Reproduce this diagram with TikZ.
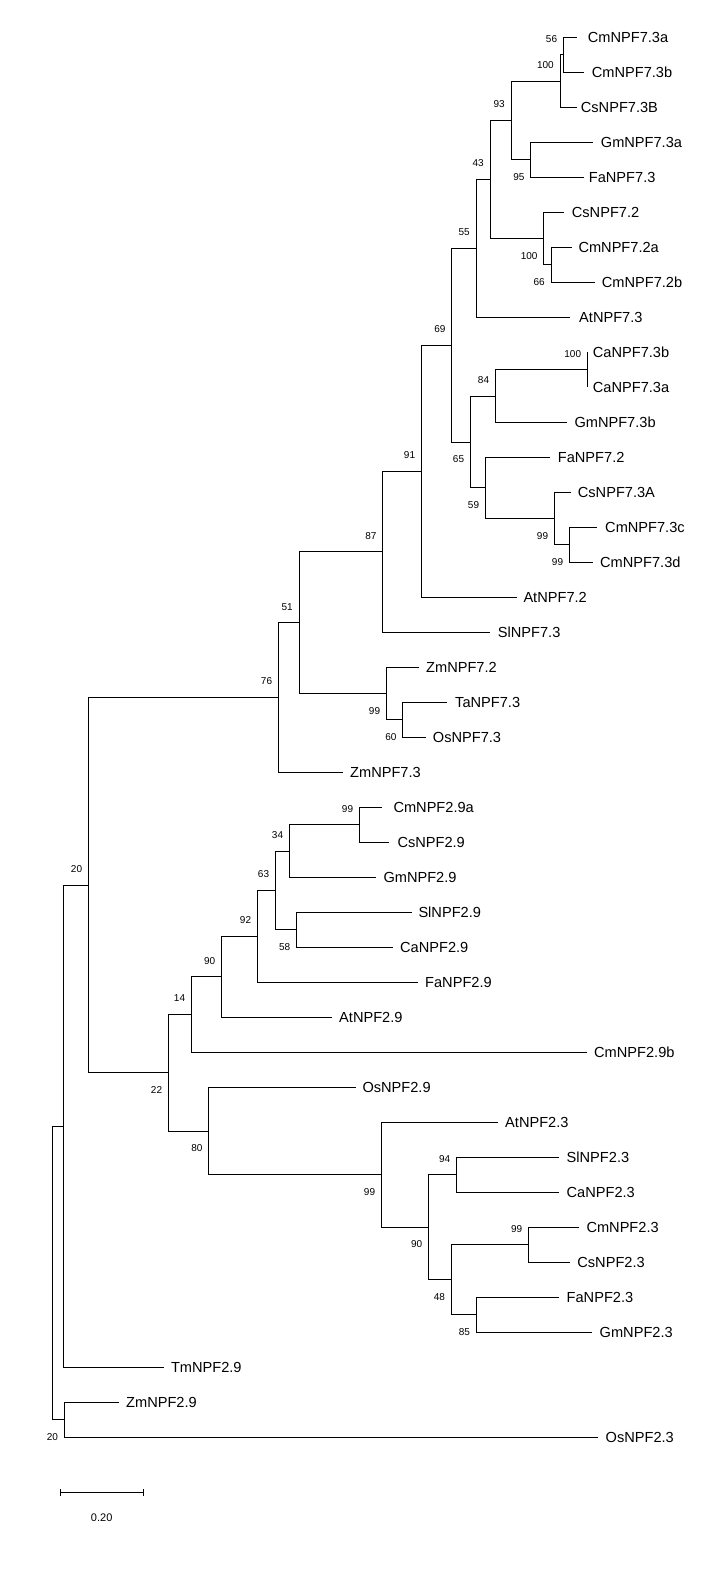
\documentclass[tikz,border=0pt]{standalone}
\usepackage{fontspec}
\setmainfont{Liberation Sans}
\begin{document}
\begin{tikzpicture}[x=1pt,y=-1pt,
  br/.style={line width=0.9pt,black},
  leaf/.style={anchor=west,inner sep=0pt,font=\fontsize{14.6}{16}\selectfont,text height=10.5pt,text depth=0pt},
  bsa/.style={anchor=east,inner sep=0pt,font=\fontsize{10}{12}\selectfont,text height=7.2pt,text depth=0pt,yshift=16.3pt},
  bsb/.style={anchor=east,inner sep=0pt,font=\fontsize{10}{12}\selectfont,text height=7.2pt,text depth=0pt,yshift=-17pt}]
\useasboundingbox (0,0) rectangle (724,1576);
% internal nodes
\coordinate (root) at (52.2,1273);
\coordinate (nA) at (63.3,1126.2);
\coordinate (n20b) at (64.1,1419.8);
\coordinate (n20a) at (88.3,885.1);
\coordinate (n76) at (278.3,697.5);
\coordinate (n51) at (299,622.7);
\coordinate (n87) at (382.7,551.8);
\coordinate (n91) at (421.3,471.2);
\coordinate (n69) at (451.7,345.1);
\coordinate (n55) at (476,248.3);
\coordinate (n43) at (490,179.5);
\coordinate (n93) at (511,120.5);
\coordinate (n100a) at (560,81.25);
\coordinate (n56) at (563.3,54.8);
\coordinate (n95) at (530.7,159.8);
\coordinate (n100b) at (543.7,238.5);
\coordinate (n66) at (551,264.8);
\coordinate (n65) at (470.3,442);
\coordinate (n84) at (495.3,396);
\coordinate (n100c) at (587.3,369.8);
\coordinate (n59) at (485.3,487.9);
\coordinate (n99a) at (554.3,518.5);
\coordinate (n99b) at (569.3,544.8);
\coordinate (n99c) at (386.3,693.5);
\coordinate (n60) at (402.7,719.8);
\coordinate (n22) at (168.3,1072.8);
\coordinate (n14) at (191.3,1014.6);
\coordinate (n90) at (221.5,976.8);
\coordinate (n92) at (257.3,936.4);
\coordinate (n63) at (275.3,890.4);
\coordinate (n34) at (289.3,851);
\coordinate (n99d) at (359.3,824.8);
\coordinate (n58) at (296.5,929.8);
\coordinate (n80) at (208.6,1131);
\coordinate (n99e) at (381.3,1174.8);
\coordinate (n90b) at (428.5,1227.3);
\coordinate (n94) at (456.4,1174.8);
\coordinate (n48) at (451.2,1279.8);
\coordinate (n99f) at (528.5,1244.8);
\coordinate (n85) at (476.1,1314.8);
% leaf branch ends
\coordinate (e0) at (577.3,37.3);
\coordinate (e1) at (584,72.3);
\coordinate (e2) at (577.3,107.3);
\coordinate (e3) at (592.7,142.3);
\coordinate (e4) at (584,177.3);
\coordinate (e5) at (564,212.3);
\coordinate (e6) at (571.7,247.3);
\coordinate (e7) at (595,282.3);
\coordinate (e8) at (570,317.3);
\coordinate (e9) at (587.3,352.3);
\coordinate (e10) at (587.3,387.3);
\coordinate (e11) at (567.3,422.3);
\coordinate (e12) at (550,457.3);
\coordinate (e13) at (571,492.3);
\coordinate (e14) at (597.3,527.3);
\coordinate (e15) at (592.7,562.3);
\coordinate (e16) at (516.7,597.3);
\coordinate (e17) at (490,632.3);
\coordinate (e18) at (419.3,667.3);
\coordinate (e19) at (447.3,702.3);
\coordinate (e20) at (426,737.3);
\coordinate (e21) at (342.7,772.3);
\coordinate (e22) at (381.7,807.3);
\coordinate (e23) at (389.3,842.3);
\coordinate (e24) at (376,877.3);
\coordinate (e25) at (411.7,912.3);
\coordinate (e26) at (393.3,947.3);
\coordinate (e27) at (418.3,982.3);
\coordinate (e28) at (331.7,1017.3);
\coordinate (e29) at (587.4,1052.3);
\coordinate (e30) at (355.7,1087.3);
\coordinate (e31) at (497.7,1122.3);
\coordinate (e32) at (559.2,1157.3);
\coordinate (e33) at (559.2,1192.3);
\coordinate (e34) at (579.4,1227.3);
\coordinate (e35) at (570.2,1262.3);
\coordinate (e36) at (559.2,1297.3);
\coordinate (e37) at (592.2,1332.3);
\coordinate (e38) at (163.7,1367.3);
\coordinate (e39) at (118.5,1402.3);
\coordinate (e40) at (598,1437.3);
% leaf labels
\node[leaf] (l0) at (587.7,37.3) {CmNPF7.3a};
\node[leaf] (l1) at (591.7,72.3) {CmNPF7.3b};
\node[leaf] (l2) at (580.7,107.3) {CsNPF7.3B};
\node[leaf] (l3) at (600.7,142.3) {GmNPF7.3a};
\node[leaf] (l4) at (588.7,177.3) {FaNPF7.3};
\node[leaf] (l5) at (571.7,212.3) {CsNPF7.2};
\node[leaf] (l6) at (578.3,247.3) {CmNPF7.2a};
\node[leaf] (l7) at (601.7,282.3) {CmNPF7.2b};
\node[leaf] (l8) at (579,317.3) {AtNPF7.3};
\node[leaf] (l9) at (592.7,352.3) {CaNPF7.3b};
\node[leaf] (l10) at (592.7,387.3) {CaNPF7.3a};
\node[leaf] (l11) at (574.3,422.3) {GmNPF7.3b};
\node[leaf] (l12) at (557.7,457.3) {FaNPF7.2};
\node[leaf] (l13) at (577.7,492.3) {CsNPF7.3A};
\node[leaf] (l14) at (605,527.3) {CmNPF7.3c};
\node[leaf] (l15) at (600,562.3) {CmNPF7.3d};
\node[leaf] (l16) at (523.3,597.3) {AtNPF7.2};
\node[leaf] (l17) at (497.7,632.3) {SlNPF7.3};
\node[leaf] (l18) at (426,667.3) {ZmNPF7.2};
\node[leaf] (l19) at (455,702.3) {TaNPF7.3};
\node[leaf] (l20) at (432.7,737.3) {OsNPF7.3};
\node[leaf] (l21) at (350,772.3) {ZmNPF7.3};
\node[leaf] (l22) at (393.3,807.3) {CmNPF2.9a};
\node[leaf] (l23) at (397.3,842.3) {CsNPF2.9};
\node[leaf] (l24) at (383.3,877.3) {GmNPF2.9};
\node[leaf] (l25) at (418.3,912.3) {SlNPF2.9};
\node[leaf] (l26) at (400,947.3) {CaNPF2.9};
\node[leaf] (l27) at (425,982.3) {FaNPF2.9};
\node[leaf] (l28) at (339,1017.3) {AtNPF2.9};
\node[leaf] (l29) at (594,1052.3) {CmNPF2.9b};
\node[leaf] (l30) at (362.3,1087.3) {OsNPF2.9};
\node[leaf] (l31) at (505,1122.3) {AtNPF2.3};
\node[leaf] (l32) at (566.5,1157.3) {SlNPF2.3};
\node[leaf] (l33) at (566.5,1192.3) {CaNPF2.3};
\node[leaf] (l34) at (586.3,1227.3) {CmNPF2.3};
\node[leaf] (l35) at (577.2,1262.3) {CsNPF2.3};
\node[leaf] (l36) at (566.5,1297.3) {FaNPF2.3};
\node[leaf] (l37) at (599.5,1332.3) {GmNPF2.3};
\node[leaf] (l38) at (170.8,1367.3) {TmNPF2.9};
\node[leaf] (l39) at (126,1402.3) {ZmNPF2.9};
\node[leaf] (l40) at (605.5,1437.3) {OsNPF2.3};
% branches
\draw[br] (root) |- (nA);
\draw[br] (root) |- (n20b);
\draw[br] (nA) |- (n20a);
\draw[br] (nA) |- (e38);
\draw[br] (n20b) |- (e39);
\draw[br] (n20b) |- (e40);
\draw[br] (n20a) |- (n76);
\draw[br] (n20a) |- (n22);
\draw[br] (n76) |- (n51);
\draw[br] (n76) |- (e21);
\draw[br] (n51) |- (n87);
\draw[br] (n51) |- (n99c);
\draw[br] (n87) |- (n91);
\draw[br] (n87) |- (e17);
\draw[br] (n91) |- (n69);
\draw[br] (n91) |- (e16);
\draw[br] (n69) |- (n55);
\draw[br] (n69) |- (n65);
\draw[br] (n55) |- (n43);
\draw[br] (n55) |- (e8);
\draw[br] (n43) |- (n93);
\draw[br] (n43) |- (n100b);
\draw[br] (n93) |- (n100a);
\draw[br] (n93) |- (n95);
\draw[br] (n100a) |- (n56);
\draw[br] (n100a) |- (e2);
\draw[br] (n56) |- (e0);
\draw[br] (n56) |- (e1);
\draw[br] (n95) |- (e3);
\draw[br] (n95) |- (e4);
\draw[br] (n100b) |- (e5);
\draw[br] (n100b) |- (n66);
\draw[br] (n66) |- (e6);
\draw[br] (n66) |- (e7);
\draw[br] (n65) |- (n84);
\draw[br] (n65) |- (n59);
\draw[br] (n84) |- (n100c);
\draw[br] (n84) |- (e11);
\draw[br] (n100c) |- (e9);
\draw[br] (n100c) |- (e10);
\draw[br] (n59) |- (e12);
\draw[br] (n59) |- (n99a);
\draw[br] (n99a) |- (e13);
\draw[br] (n99a) |- (n99b);
\draw[br] (n99b) |- (e14);
\draw[br] (n99b) |- (e15);
\draw[br] (n99c) |- (e18);
\draw[br] (n99c) |- (n60);
\draw[br] (n60) |- (e19);
\draw[br] (n60) |- (e20);
\draw[br] (n22) |- (n14);
\draw[br] (n22) |- (n80);
\draw[br] (n14) |- (n90);
\draw[br] (n14) |- (e29);
\draw[br] (n90) |- (n92);
\draw[br] (n90) |- (e28);
\draw[br] (n92) |- (n63);
\draw[br] (n92) |- (e27);
\draw[br] (n63) |- (n34);
\draw[br] (n63) |- (n58);
\draw[br] (n34) |- (n99d);
\draw[br] (n34) |- (e24);
\draw[br] (n99d) |- (e22);
\draw[br] (n99d) |- (e23);
\draw[br] (n58) |- (e25);
\draw[br] (n58) |- (e26);
\draw[br] (n80) |- (e30);
\draw[br] (n80) |- (n99e);
\draw[br] (n99e) |- (e31);
\draw[br] (n99e) |- (n90b);
\draw[br] (n90b) |- (n94);
\draw[br] (n90b) |- (n48);
\draw[br] (n94) |- (e32);
\draw[br] (n94) |- (e33);
\draw[br] (n48) |- (n99f);
\draw[br] (n48) |- (n85);
\draw[br] (n99f) |- (e34);
\draw[br] (n99f) |- (e35);
\draw[br] (n85) |- (e36);
\draw[br] (n85) |- (e37);
% bootstrap values
\node[bsa] (b56) at ([xshift=-6pt]n56) {56};
\node[bsa] (b100a) at ([xshift=-6pt]n100a) {100};
\node[bsa] (b93) at ([xshift=-6pt]n93) {93};
\node[bsb] (b95) at ([xshift=-6pt]n95) {95};
\node[bsa] (b43) at ([xshift=-6pt]n43) {43};
\node[bsa] (b55) at ([xshift=-6pt]n55) {55};
\node[bsb] (b100b) at ([xshift=-6pt]n100b) {100};
\node[bsb] (b66) at ([xshift=-6pt]n66) {66};
\node[bsa] (b69) at ([xshift=-6pt]n69) {69};
\node[bsa] (b100c) at ([xshift=-6pt]n100c) {100};
\node[bsa] (b84) at ([xshift=-6pt]n84) {84};
\node[bsb] (b65) at ([xshift=-6pt]n65) {65};
\node[bsb] (b59) at ([xshift=-6pt]n59) {59};
\node[bsb] (b99a) at ([xshift=-6pt]n99a) {99};
\node[bsb] (b99b) at ([xshift=-6pt]n99b) {99};
\node[bsa] (b91) at ([xshift=-6pt]n91) {91};
\node[bsa] (b87) at ([xshift=-6pt]n87) {87};
\node[bsa] (b51) at ([xshift=-6pt]n51) {51};
\node[bsb] (b99c) at ([xshift=-6pt]n99c) {99};
\node[bsb] (b60) at ([xshift=-6pt]n60) {60};
\node[bsa] (b76) at ([xshift=-6pt]n76) {76};
\node[bsa] (b99d) at ([xshift=-6pt]n99d) {99};
\node[bsa] (b34) at ([xshift=-6pt]n34) {34};
\node[bsa] (b63) at ([xshift=-6pt]n63) {63};
\node[bsb] (b58) at ([xshift=-6pt]n58) {58};
\node[bsa] (b92) at ([xshift=-6pt]n92) {92};
\node[bsa] (b90) at ([xshift=-6pt]n90) {90};
\node[bsa] (b14) at ([xshift=-6pt]n14) {14};
\node[bsa] (b20a) at ([xshift=-6pt]n20a) {20};
\node[bsb] (b22) at ([xshift=-6pt]n22) {22};
\node[bsb] (b80) at ([xshift=-6pt]n80) {80};
\node[bsb] (b99e) at ([xshift=-6pt]n99e) {99};
\node[bsa] (b94) at ([xshift=-6pt]n94) {94};
\node[bsb] (b90b) at ([xshift=-6pt]n90b) {90};
\node[bsa] (b99f) at ([xshift=-6pt]n99f) {99};
\node[bsb] (b48) at ([xshift=-6pt]n48) {48};
\node[bsb] (b85) at ([xshift=-6pt]n85) {85};
\node[bsb] (b20b) at ([xshift=-6pt]n20b) {20};
% scale bar
\coordinate (sb1) at (60.7,1492.7);
\coordinate (sb2) at (143.7,1492.7);
\draw[br] (sb1) -- (sb2);
\draw[br] ([yshift=3.7pt]sb1) -- ([yshift=-3.7pt]sb1);
\draw[br] ([yshift=3.7pt]sb2) -- ([yshift=-3.7pt]sb2);
\node[inner sep=0pt,font=\fontsize{11}{13}\selectfont] (sbl) at (101.7,1517.3) {0.20};
\end{tikzpicture}
\end{document}
